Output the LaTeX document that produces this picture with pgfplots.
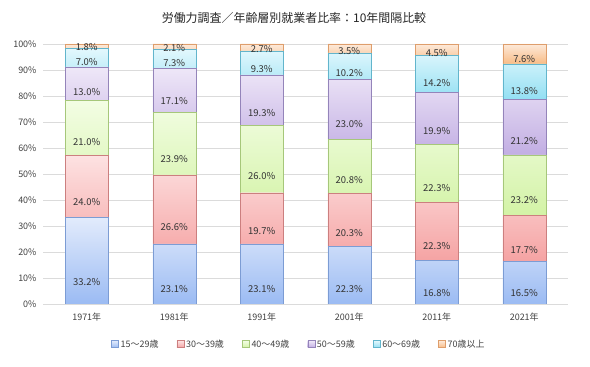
\documentclass[border=0pt]{standalone}
\usepackage{pgfplots}
\pgfplotsset{compat=1.18}
\usepackage{pgfplotstable}
\usepackage{fontspec}
\setmainfont{Noto Sans CJK JP}

\definecolor{bTop}{HTML}{E2EBFC}\definecolor{bBot}{HTML}{9BBBF3}\definecolor{bDr}{HTML}{7C9CD4}
\definecolor{rTop}{HTML}{FDE2E2}\definecolor{rBot}{HTML}{F5A3A3}\definecolor{rDr}{HTML}{CC7F7F}
\definecolor{gTop}{HTML}{F3FDE4}\definecolor{gBot}{HTML}{D3F3A6}\definecolor{gDr}{HTML}{A6C77A}
\definecolor{pTop}{HTML}{EFE8F8}\definecolor{pBot}{HTML}{C2AEE3}\definecolor{pDr}{HTML}{9484BA}
\definecolor{cTop}{HTML}{E3F8FD}\definecolor{cBot}{HTML}{92DFF3}\definecolor{cDr}{HTML}{62B5CC}
\definecolor{oTop}{HTML}{FDEADB}\definecolor{oBot}{HTML}{F8BC86}\definecolor{oDr}{HTML}{DE9E6C}

\pgfplotstableread{
x a b c d e f
0 33.2 24.0 21.0 13.0 7.0 1.8
1 23.1 26.6 23.9 17.1 7.3 2.1
2 23.1 19.7 26.0 19.3 9.3 2.7
3 22.3 20.3 20.8 23.0 10.2 3.5
4 16.8 22.3 22.3 19.9 14.2 4.5
5 16.5 17.7 23.2 21.2 13.8 7.6
}\data

\pgfplotsset{
  lbl/.style={
    visualization depends on={\thisrow{#1}\as\rawy},
    point meta=\thisrow{#1},
  }
}

\begin{document}
\begin{tikzpicture}
\path (0bp,0bp) rectangle (590bp,367bp);
\node[font=\fontsize{12}{14}\selectfont, text=black!85] at (294bp,349bp) {労働力調査／年齢層別就業者比率：10年間隔比較};
\begin{axis}[
  at={(43bp,63bp)}, anchor=south west,
  scale only axis, width=525bp, height=260.52bp,
  ybar stacked, bar width=43bp,
  xmin=-0.5, xmax=5.5, ymin=0, ymax=100.2,
  xtick={0,...,5},
  xticklabels={1971年,1981年,1991年,2001年,2011年,2021年},
  ytick={0,10,...,100},
  yticklabel={\pgfmathprintnumber{\tick}\%},
  /pgf/number format/assume math mode=true,
  axis line style={draw=none},
  major tick length=0pt,
  ymajorgrids, grid style={black!14, line width=0.8pt},
  tick label style={font=\fontsize{9}{11}\selectfont, text=black!75},
  yticklabel style={xshift=-3bp},
  xticklabel style={yshift=-5bp},
  nodes near coords={\pgfmathprintnumber[fixed,fixed zerofill,precision=1]{\pgfplotspointmeta}\%},
  every node near coord/.append style={anchor=center, yshift=-0.65bp*\rawy, font=\fontsize{9.5}{11}\selectfont, text=black!80},
  legend image code/.code={\draw[#1] (0bp,-3.5bp) rectangle (7bp,3.5bp);},
  legend columns=6,
  legend style={at={(0.5,-0.154)}, anchor=center, draw=none, fill=none,
    font=\fontsize{9}{11}\selectfont, text=black!75,
    /tikz/every even column/.append style={column sep=4bp},
    /tikz/every odd column/.append style={column sep=0bp}},
]
\addplot[draw=bDr, top color=bTop, bottom color=bBot, lbl=a] table[x=x,y=a] {\data};
\addplot[draw=rDr, top color=rTop, bottom color=rBot, lbl=b] table[x=x,y=b] {\data};
\addplot[draw=gDr, top color=gTop, bottom color=gBot, lbl=c] table[x=x,y=c] {\data};
\addplot[draw=pDr, top color=pTop, bottom color=pBot, lbl=d] table[x=x,y=d] {\data};
\addplot[draw=cDr, top color=cTop, bottom color=cBot, lbl=e] table[x=x,y=e] {\data};
\addplot[draw=oDr, top color=oTop, bottom color=oBot, lbl=f] table[x=x,y=f] {\data};
\addlegendentry{\makebox[50bp][l]{15～29歳}}
\addlegendentry{\makebox[50bp][l]{30～39歳}}
\addlegendentry{\makebox[50bp][l]{40～49歳}}
\addlegendentry{\makebox[50bp][l]{50～59歳}}
\addlegendentry{\makebox[50bp][l]{60～69歳}}
\addlegendentry{\makebox[50bp][l]{70歳以上}}
\end{axis}
\end{tikzpicture}
\end{document}
